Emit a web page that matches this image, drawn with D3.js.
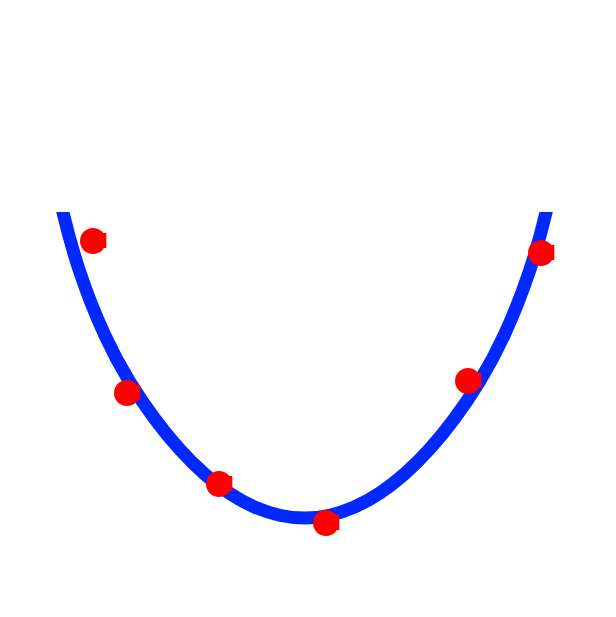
<!DOCTYPE html>
<html><head><meta charset="utf-8">
<script src="https://cdn.jsdelivr.net/npm/d3@7"></script>
<style>html,body{margin:0;padding:0;background:#fff;}</style>
</head><body>
<script>
// Observed points
const pointX = [-4.23, -3.55, -1.71, 0.43, 3.27, 4.73];
const pointY = [5.54, 2.50, 0.68, -0.10, 2.74, 5.30];
// Curve
const curveX = [-5.0, -4.83, -4.5, -4.0, -3.5, -3.0, -2.5, -2.0, -1.5, -1.0, -0.5, 0, 0.5, 1.0, 1.5, 2.0, 2.5, 3.0, 3.5, 4.0, 4.5, 4.83, 5.0];
const curveY = [6.88, 6.11, 4.94, 3.67, 2.73, 1.99, 1.376, 0.88, 0.495, 0.22, 0.055, 0, 0.055, 0.22, 0.495, 0.88, 1.376, 1.99, 2.73, 3.67, 4.94, 6.11, 6.88];
const yLimits = [-1.5, 6.12];

const W = 616, H = 617;
const x = d3.scaleLinear().domain([-5, 5]).range([54.5, 554.5]);
const y = d3.scaleLinear().domain(yLimits).range([593, 212]);

const svg = d3.select("body").append("svg").attr("width", W).attr("height", H);
svg.append("defs").append("clipPath").attr("id", "plotclip")
  .append("rect").attr("x", 0).attr("y", y(yLimits[1])).attr("width", W).attr("height", y(yLimits[0]) - y(yLimits[1]) + 24);

const g = svg.append("g").attr("clip-path", "url(#plotclip)");
const curveData = curveX.map((v, i) => [v, curveY[i]]);
g.append("path")
  .attr("d", d3.line().x(d => x(d[0])).y(d => y(d[1])).curve(d3.curveNatural)(curveData))
  .attr("fill", "none").attr("stroke", "#0028ff").attr("stroke-width", 13);

const pts = pointX.map((v, i) => [v, pointY[i]]);
const mk = svg.append("g").selectAll("g").data(pts).join("g")
  .attr("transform", d => `translate(${x(d[0])},${y(d[1])})`);
mk.append("circle").attr("r", 13).attr("fill", "#ff0000");
mk.append("rect").attr("x", 8).attr("y", -8).attr("width", 5.3).attr("height", 15).attr("fill", "#ff0000");
</script>
</body></html>
